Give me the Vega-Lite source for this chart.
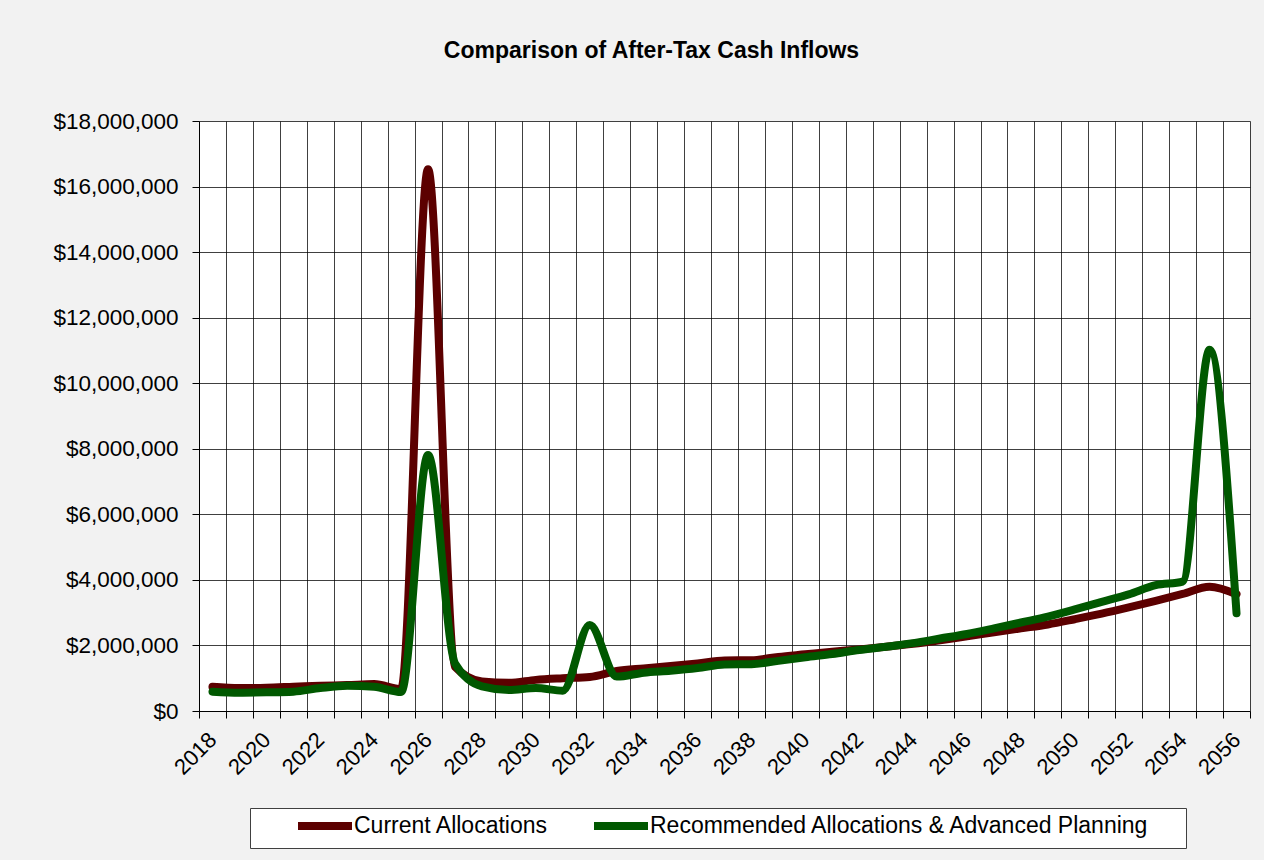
{
  "$schema": "https://vega.github.io/schema/vega-lite/v6.json",
  "width": 1051,
  "height": 590,
  "autosize": {"type": "none"},
  "padding": {"left": 199, "top": 121, "right": 14, "bottom": 149},
  "background": "#f2f2f2",
  "title": {
    "text": "Comparison of After-Tax Cash Inflows",
    "font": "Liberation Sans",
    "fontSize": 23,
    "fontWeight": "bold",
    "color": "#000000",
    "anchor": "middle",
    "dx": -73,
    "baseline": "alphabetic",
    "offset": 29
  },
  "config": {
    "view": {"stroke": null, "fill": "#ffffff"},
    "font": "Liberation Sans"
  },
  "data": {
    "values": [
      {"year": 2018, "series": "Current Allocations", "value": 740000},
      {"year": 2019, "series": "Current Allocations", "value": 700000},
      {"year": 2020, "series": "Current Allocations", "value": 710000},
      {"year": 2021, "series": "Current Allocations", "value": 740000},
      {"year": 2022, "series": "Current Allocations", "value": 770000},
      {"year": 2023, "series": "Current Allocations", "value": 790000},
      {"year": 2024, "series": "Current Allocations", "value": 820000},
      {"year": 2025, "series": "Current Allocations", "value": 670000},
      {"year": 2026, "series": "Current Allocations", "value": 16530000},
      {"year": 2027, "series": "Current Allocations", "value": 1350000},
      {"year": 2028, "series": "Current Allocations", "value": 900000},
      {"year": 2029, "series": "Current Allocations", "value": 860000},
      {"year": 2030, "series": "Current Allocations", "value": 950000},
      {"year": 2031, "series": "Current Allocations", "value": 1000000},
      {"year": 2032, "series": "Current Allocations", "value": 1040000},
      {"year": 2033, "series": "Current Allocations", "value": 1220000},
      {"year": 2034, "series": "Current Allocations", "value": 1300000},
      {"year": 2035, "series": "Current Allocations", "value": 1370000},
      {"year": 2036, "series": "Current Allocations", "value": 1450000},
      {"year": 2037, "series": "Current Allocations", "value": 1540000},
      {"year": 2038, "series": "Current Allocations", "value": 1550000},
      {"year": 2039, "series": "Current Allocations", "value": 1650000},
      {"year": 2040, "series": "Current Allocations", "value": 1730000},
      {"year": 2041, "series": "Current Allocations", "value": 1810000},
      {"year": 2042, "series": "Current Allocations", "value": 1880000},
      {"year": 2043, "series": "Current Allocations", "value": 1960000},
      {"year": 2044, "series": "Current Allocations", "value": 2050000},
      {"year": 2045, "series": "Current Allocations", "value": 2160000},
      {"year": 2046, "series": "Current Allocations", "value": 2280000},
      {"year": 2047, "series": "Current Allocations", "value": 2400000},
      {"year": 2048, "series": "Current Allocations", "value": 2520000},
      {"year": 2049, "series": "Current Allocations", "value": 2640000},
      {"year": 2050, "series": "Current Allocations", "value": 2800000},
      {"year": 2051, "series": "Current Allocations", "value": 2970000},
      {"year": 2052, "series": "Current Allocations", "value": 3160000},
      {"year": 2053, "series": "Current Allocations", "value": 3360000},
      {"year": 2054, "series": "Current Allocations", "value": 3570000},
      {"year": 2055, "series": "Current Allocations", "value": 3790000},
      {"year": 2056, "series": "Current Allocations", "value": 3560000},
      {"year": 2018, "series": "Recommended Allocations & Advanced Planning", "value": 590000},
      {"year": 2019, "series": "Recommended Allocations & Advanced Planning", "value": 560000},
      {"year": 2020, "series": "Recommended Allocations & Advanced Planning", "value": 570000},
      {"year": 2021, "series": "Recommended Allocations & Advanced Planning", "value": 590000},
      {"year": 2022, "series": "Recommended Allocations & Advanced Planning", "value": 700000},
      {"year": 2023, "series": "Recommended Allocations & Advanced Planning", "value": 770000},
      {"year": 2024, "series": "Recommended Allocations & Advanced Planning", "value": 740000},
      {"year": 2025, "series": "Recommended Allocations & Advanced Planning", "value": 580000},
      {"year": 2026, "series": "Recommended Allocations & Advanced Planning", "value": 7810000},
      {"year": 2027, "series": "Recommended Allocations & Advanced Planning", "value": 1450000},
      {"year": 2028, "series": "Recommended Allocations & Advanced Planning", "value": 750000},
      {"year": 2029, "series": "Recommended Allocations & Advanced Planning", "value": 640000},
      {"year": 2030, "series": "Recommended Allocations & Advanced Planning", "value": 700000},
      {"year": 2031, "series": "Recommended Allocations & Advanced Planning", "value": 620000},
      {"year": 2032, "series": "Recommended Allocations & Advanced Planning", "value": 2620000},
      {"year": 2033, "series": "Recommended Allocations & Advanced Planning", "value": 1050000},
      {"year": 2034, "series": "Recommended Allocations & Advanced Planning", "value": 1170000},
      {"year": 2035, "series": "Recommended Allocations & Advanced Planning", "value": 1230000},
      {"year": 2036, "series": "Recommended Allocations & Advanced Planning", "value": 1310000},
      {"year": 2037, "series": "Recommended Allocations & Advanced Planning", "value": 1420000},
      {"year": 2038, "series": "Recommended Allocations & Advanced Planning", "value": 1430000},
      {"year": 2039, "series": "Recommended Allocations & Advanced Planning", "value": 1530000},
      {"year": 2040, "series": "Recommended Allocations & Advanced Planning", "value": 1640000},
      {"year": 2041, "series": "Recommended Allocations & Advanced Planning", "value": 1740000},
      {"year": 2042, "series": "Recommended Allocations & Advanced Planning", "value": 1860000},
      {"year": 2043, "series": "Recommended Allocations & Advanced Planning", "value": 1960000},
      {"year": 2044, "series": "Recommended Allocations & Advanced Planning", "value": 2070000},
      {"year": 2045, "series": "Recommended Allocations & Advanced Planning", "value": 2210000},
      {"year": 2046, "series": "Recommended Allocations & Advanced Planning", "value": 2350000},
      {"year": 2047, "series": "Recommended Allocations & Advanced Planning", "value": 2520000},
      {"year": 2048, "series": "Recommended Allocations & Advanced Planning", "value": 2700000},
      {"year": 2049, "series": "Recommended Allocations & Advanced Planning", "value": 2880000},
      {"year": 2050, "series": "Recommended Allocations & Advanced Planning", "value": 3100000},
      {"year": 2051, "series": "Recommended Allocations & Advanced Planning", "value": 3330000},
      {"year": 2052, "series": "Recommended Allocations & Advanced Planning", "value": 3560000},
      {"year": 2053, "series": "Recommended Allocations & Advanced Planning", "value": 3840000},
      {"year": 2054, "series": "Recommended Allocations & Advanced Planning", "value": 3950000},
      {"year": 2055, "series": "Recommended Allocations & Advanced Planning", "value": 11020000},
      {"year": 2056, "series": "Recommended Allocations & Advanced Planning", "value": 2980000}
    ]
  },
  "mark": {"type": "line", "interpolate": "monotone", "strokeWidth": 8, "strokeJoin": "round", "strokeCap": "round"},
  "encoding": {
    "x": {
      "field": "year",
      "type": "ordinal",
      "scale": {"type": "band", "paddingInner": 0, "paddingOuter": 0},
      "axis": {
        "title": null,
        "tickBand": "extent",
        "labelExpr": "datum.value % 2 == 0 ? datum.label : ''",
        "labelAngle": -45,
        "labelAlign": "right",
        "labelBaseline": "middle",
        "labelFontSize": 22,
        "labelColor": "#000000",
        "labelPadding": 18,
        "labelOverlap": false,
        "tickSize": 7,
        "tickColor": "#000000",
        "domainColor": "#000000",
        "grid": true,
        "gridColor": "#000000",
        "gridOpacity": 0.75,
        "gridWidth": 1
      }
    },
    "y": {
      "field": "value",
      "type": "quantitative",
      "scale": {"domain": [0, 18000000], "nice": false},
      "axis": {
        "title": null,
        "values": [0, 2000000, 4000000, 6000000, 8000000, 10000000, 12000000, 14000000, 16000000, 18000000],
        "format": "$,.0f",
        "labelFontSize": 22.5,
        "labelColor": "#000000",
        "labelPadding": 14,
        "tickSize": 7,
        "tickColor": "#000000",
        "domainColor": "#000000",
        "grid": true,
        "gridColor": "#000000",
        "gridOpacity": 0.75,
        "gridWidth": 1
      }
    },
    "color": {
      "field": "series",
      "type": "nominal",
      "scale": {"domain": ["Current Allocations", "Recommended Allocations & Advanced Planning"], "range": ["#5c0000", "#005800"]},
      "legend": {
        "title": ".",
        "titleOrient": "right",
        "titleColor": "#ffffff",
        "titleFontSize": 23,
        "titlePadding": 23,
        "orient": "none",
        "direction": "horizontal",
        "legendX": 51,
        "legendY": 687,
        "padding": 6,
        "fillColor": "#ffffff",
        "strokeColor": "#404040",
        "symbolType": "M-3.375,0H3.375",
        "symbolSize": 256,
        "symbolStrokeWidth": 8,
        "symbolOffset": 57,
        "labelFontSize": 23,
        "labelColor": "#000000",
        "labelLimit": 800,
        "labelOffset": 17,
        "columnPadding": 3
      }
    }
  }
}
